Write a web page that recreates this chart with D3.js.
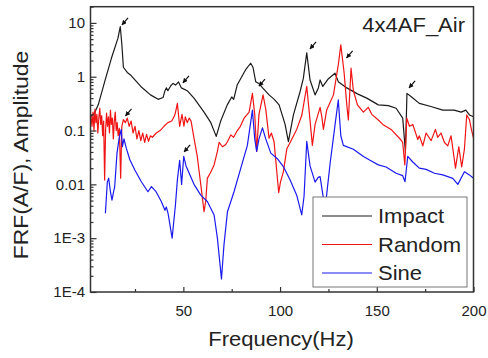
<!DOCTYPE html>
<html>
<head>
<meta charset="utf-8">
<script src="https://cdn.jsdelivr.net/npm/d3@7"></script>
<style>
body { margin: 0; background: #fff; }
text { font-family: "Liberation Sans", Arial, sans-serif; fill: #222; }
</style>
</head>
<body>
<svg id="chart" width="488" height="358"></svg>
<script>
// values: [frequency Hz, amplitude]
const impact = [
  [2.1,0.18],[4,0.21],[6,0.30],[9.3,0.8],[12.8,2.2],[16.2,5.2],[17.4,8.5],[18.2,4.0],[19,1.5],[21,1.2],
  [23,1.05],[28,0.66],[33,0.46],[37,0.38],[39.5,0.41],[40.5,0.55],[41.2,0.62],[42,0.55],[43.5,0.68],[44.7,0.75],
  [46,0.7],[47.5,0.8],[49,0.62],[52,0.55],[55.5,0.40],[60.7,0.22],[64.2,0.14],[67,0.078],[69.3,0.15],[72.7,0.30],
  [75,0.42],[76,0.38],[77.9,0.71],[82.2,1.35],[84.8,1.78],[86,1.5],[87.4,0.81],[89,0.75],[91,0.62],[94.3,0.46],
  [97,0.38],[99.5,0.30],[102.6,0.13],[104.3,0.062],[106.9,0.195],[110.3,0.52],[112,0.92],[113.8,2.78],[115.5,0.87],[118.1,0.46],
  [119.8,0.62],[120.7,0.87],[122.1,0.66],[125,0.92],[128.4,1.16],[130.1,0.81],[134.5,0.62],[140,0.48],[144.8,0.40],[150.8,0.30],
  [156,0.29],[160,0.26],[163.4,0.17],[164.8,0.041],[165.6,0.49],[168,0.42],[172,0.32],[178,0.28],[184.1,0.24],[190,0.24],
  [193.6,0.22],[196,0.24],[197.9,0.195],[200,0.18]
];

const random = [
  [2.2,0.19],[2.8,0.12],[3.3,0.22],[3.8,0.10],[4.3,0.25],[4.8,0.14],[5.3,0.20],[5.8,0.09],[6.3,0.17],[6.8,0.26],
  [7.3,0.13],[7.8,0.19],[8.3,0.08],[8.8,0.15],[9.3,0.012],[9.8,0.10],[10.3,0.21],[10.8,0.12],[11.3,0.18],[11.8,0.09],
  [12.3,0.24],[12.8,0.13],[13.3,0.17],[13.8,0.07],[14.3,0.15],[14.8,0.22],[15.3,0.10],[15.8,0.14],[16.3,0.08],[16.9,0.11],
  [17.6,0.013],[18.2,0.12],[19,0.16],[20,0.14],[21,0.17],[22,0.12],[23,0.15],[24,0.09],[25,0.12],[26,0.07],
  [27,0.10],[28,0.065],[29,0.09],[30,0.06],[31,0.085],[32,0.063],[33,0.08],[34,0.075],[36,0.09],[38,0.10],
  [40,0.12],[42,0.14],[44,0.15],[45.5,0.19],[46.2,0.24],[46.9,0.32],[48.1,0.12],[49.3,0.2],[50.3,0.12],[51,0.18],
  [52,0.14],[53,0.17],[54,0.15],[55.5,0.072],[57.2,0.033],[59,0.010],[60.7,0.0031],[61.6,0.005],[62.4,0.0129],[64.2,0.017],
  [65.9,0.023],[67.6,0.041],[68.5,0.06],[70.2,0.05],[71.9,0.055],[72.8,0.062],[74.5,0.083],[76,0.075],[77.9,0.1],[79.5,0.12],
  [81.4,0.17],[84,0.22],[85.7,0.49],[86.9,0.2],[87.9,0.041],[89.1,0.2],[91.2,0.46],[92.6,0.25],[94.3,0.072],[95.5,0.09],
  [96.9,0.062],[99.3,0.007],[100.2,0.011],[101.7,0.017],[103.5,0.046],[105.2,0.06],[108.6,0.105],[111.2,0.19],[113.8,0.66],[115.2,0.2],
  [116.7,0.053],[118.1,0.13],[120.7,0.27],[121.6,0.18],[122.4,0.105],[124.1,0.24],[127.6,0.46],[130.1,1.66],[131.4,3.9],[133.1,1.2],
  [134.5,0.30],[135.3,0.157],[136.7,1.44],[137.9,0.55],[140,0.30],[143.1,0.22],[145.6,0.27],[147.4,0.2],[150.8,0.157],[153.1,0.13],
  [157.4,0.105],[161.7,0.072],[163.4,0.06],[164.5,0.023],[165.5,0.17],[166.9,0.12],[168.6,0.13],[171.2,0.068],[172,0.08],[173.8,0.052],
  [175.5,0.09],[178.1,0.065],[180.3,0.105],[181.5,0.075],[183.2,0.09],[185,0.06],[186.7,0.052],[188.4,0.08],[190.7,0.020],[192.4,0.05],
  [193.9,0.021],[195.3,0.045],[196.5,0.195],[197.9,0.16],[198.8,0.11],[200,0.072]
];

const sine = [
  [9.7,0.0029],[10.7,0.011],[11.4,0.013],[12.3,0.0073],[13.1,0.0051],[14.0,0.0075],[14.5,0.009],[15.7,0.038],[16.8,0.072],[17.9,0.105],
  [18.5,0.05],[19.3,0.07],[20.5,0.047],[22.3,0.029],[24.9,0.0185],[28.3,0.0112],[31.7,0.0073],[33.5,0.0091],[35.9,0.0073],[38.6,0.0048],
  [40.5,0.0033],[41.2,0.0038],[42.1,0.0029],[44.2,0.0010],[45.9,0.0041],[46.9,0.012],[48.1,0.028],[49.1,0.01],[50.2,0.033],[51.4,0.022],
  [55.5,0.010],[59,0.0063],[62.4,0.0048],[65.9,0.0027],[67.6,0.0010],[69.7,0.000175],[71,0.00075],[72.8,0.0031],[76.2,0.0073],[79.7,0.020],
  [83.1,0.053],[85.7,0.24],[86.9,0.07],[87.9,0.041],[89.1,0.07],[90.9,0.112],[92.6,0.07],[95.2,0.038],[98.6,0.03],[101.7,0.0214],
  [105.2,0.0121],[108.6,0.0063],[111.2,0.0027],[112.4,0.006],[113.8,0.063],[115.5,0.022],[118.1,0.011],[119.7,0.0135],[120.7,0.0139],[122.4,0.0055],
  [123.8,0.0052],[125.9,0.025],[128.4,0.126],[130.1,0.37],[131.4,0.08],[132.7,0.053],[137.9,0.045],[143.1,0.033],[146.5,0.028],[150.8,0.023],
  [154.8,0.021],[160,0.0161],[163.4,0.0145],[164.6,0.0112],[166,0.033],[168.6,0.026],[172,0.020],[175.5,0.019],[179.8,0.0161],[184.1,0.015],
  [189.3,0.0129],[191.9,0.010],[195.3,0.0172],[197.9,0.015],[200,0.013]
];

// peak markers (arrow tips)
const arrowTips = [[18.3,9.2],[20.1,0.187],[49.8,0.77],[50.4,0.040],[89.1,0.67],[115.5,3.3],[134.4,2.23],[166.7,0.62]];

const seriesNames = ["Impact", "Random", "Sine"];
const seriesColors = ["#1a1a1a", "#f01414", "#1a1aef"];

const xMajor = [50, 100, 150, 200];
const xMinor = [25, 75, 125, 175];
const yMajor = [1e-4, 1e-3, 1e-2, 0.1, 1, 10];
const yTickLabels = ["1E-4", "1E-3", "0.01", "0.1", "1", "10"];

const W = 488, H = 358;
const m = {left: 90.5, right: 14.5, top: 6.7, bottom: 66};

const svg = d3.select("#chart");

const x = d3.scaleLinear().domain([2, 200]).range([m.left, W - m.right]);
const y = d3.scaleLog().domain([1e-4, 20]).range([H - m.bottom, m.top]);

svg.append("clipPath").attr("id", "clip")
  .append("rect")
  .attr("x", m.left).attr("y", m.top)
  .attr("width", W - m.left - m.right).attr("height", H - m.top - m.bottom);

// curves
const line = d3.line().x(d => x(d[0])).y(d => y(d[1]));
svg.append("g").attr("clip-path", "url(#clip)")
  .selectAll("path")
  .data([impact, random, sine])
  .join("path")
  .attr("d", line)
  .attr("fill", "none")
  .attr("stroke", (d, i) => seriesColors[i])
  .attr("stroke-width", 1.2)
  .attr("stroke-linejoin", "round");

// arrows
svg.append("defs").append("marker")
  .attr("id", "head")
  .attr("viewBox", "0 0 10 10")
  .attr("refX", 9).attr("refY", 5)
  .attr("markerWidth", 5).attr("markerHeight", 5)
  .attr("markerUnits", "userSpaceOnUse")
  .attr("orient", "auto")
  .append("path").attr("d", "M0,0L10,5L0,10Z").attr("fill", "#111");

svg.append("g").selectAll("line")
  .data(arrowTips)
  .join("line")
  .attr("x1", d => x(d[0]) + 6)
  .attr("y1", d => y(d[1]) - 7)
  .attr("x2", d => x(d[0]))
  .attr("y2", d => y(d[1]))
  .attr("stroke", "#111")
  .attr("stroke-width", 1.2)
  .attr("marker-end", "url(#head)");

// axes, ticks pointing inward
const xAxis = svg.append("g")
  .attr("transform", `translate(0,${H - m.bottom})`)
  .call(d3.axisBottom(x).tickValues(xMajor).tickSize(-5).tickPadding(13));
svg.append("g")
  .attr("transform", `translate(0,${H - m.bottom})`)
  .call(d3.axisBottom(x).tickValues(xMinor).tickSize(-3).tickFormat(""));

const yMinor = y.ticks().filter(v => !yMajor.some(t => Math.abs(t - v) / t < 1e-6));
svg.append("g")
  .attr("transform", `translate(${m.left},0)`)
  .call(d3.axisLeft(y).tickValues(yMajor).tickSize(-6).tickPadding(5.5)
    .tickFormat((d, i) => yTickLabels[i]));
svg.append("g")
  .attr("transform", `translate(${m.left},0)`)
  .call(d3.axisLeft(y).tickValues(yMinor).tickSize(-3).tickFormat(""));

svg.selectAll(".domain").remove();
svg.selectAll(".tick line").attr("stroke", "#333").attr("stroke-width", 1.2);
svg.selectAll(".tick text")
  .attr("font-family", "'Liberation Sans', Arial, sans-serif")
  .attr("font-size", 15).attr("fill", "#333");

// frame
svg.append("rect")
  .attr("x", m.left).attr("y", m.top)
  .attr("width", W - m.left - m.right).attr("height", H - m.top - m.bottom)
  .attr("fill", "none").attr("stroke", "#333").attr("stroke-width", 1.5);

// labels
svg.append("text")
  .attr("transform", "translate(281,346) scale(1.1,1)")
  .attr("text-anchor", "middle").attr("font-size", 20)
  .text("Frequency(Hz)");

svg.append("text")
  .attr("transform", "translate(28,155) rotate(-90) scale(1.09,1)")
  .attr("text-anchor", "middle").attr("font-size", 21)
  .text("FRF(A/F), Amplitude");

svg.append("text")
  .attr("transform", "translate(465,32) scale(1.1,1)")
  .attr("text-anchor", "end").attr("font-size", 20)
  .text("4x4AF_Air");

// legend
const lg = svg.append("g");
lg.append("rect")
  .attr("x", 313).attr("y", 197).attr("width", 154).attr("height", 90)
  .attr("fill", "#fff").attr("stroke", "#777").attr("stroke-width", 1);

const item = lg.selectAll(".item")
  .data(seriesNames)
  .join("g")
  .attr("class", "item")
  .attr("transform", (d, i) => `translate(0,${223 + i * 28.5})`);
item.append("line")
  .attr("x1", 322).attr("x2", 372).attr("y1", -7).attr("y2", -7)
  .attr("stroke", (d, i) => seriesColors[i]).attr("stroke-width", 1.2);
item.append("text")
  .attr("transform", "translate(378,0) scale(1.1,1)")
  .attr("font-size", 20)
  .text(d => d);
</script>
</body>
</html>
